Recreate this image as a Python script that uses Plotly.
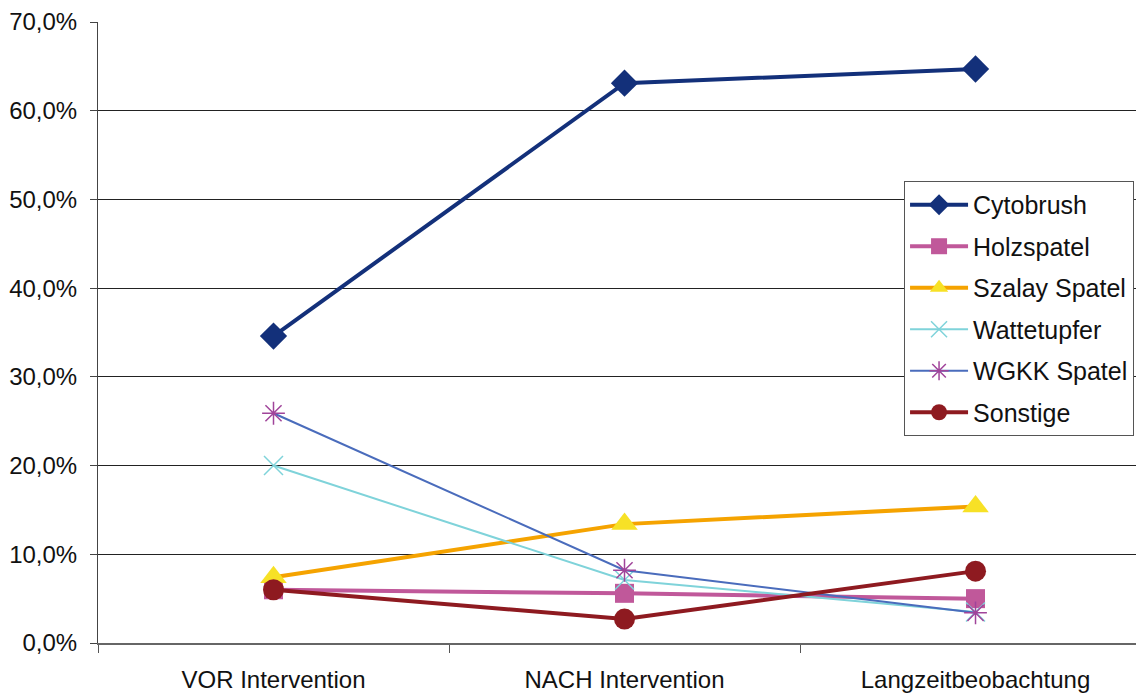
import plotly.graph_objects as go

categories = ["VOR Intervention", "NACH Intervention", "Langzeitbeobachtung"]
cytobrush = [34.6, 63.1, 64.7]
holzspatel = [6.0, 5.6, 5.0]
szalay = [7.4, 13.4, 15.4]
wattetupfer = [20.0, 7.1, 3.5]
wgkk = [25.9, 8.2, 3.4]
sonstige = [6.0, 2.7, 8.1]
y_ticks = [0, 10, 20, 30, 40, 50, 60, 70]

series = [
    ("Cytobrush", cytobrush, "#13307a", 4, dict(symbol="diamond", size=21, color="#13307a")),
    ("Holzspatel", holzspatel, "#c0589a", 4, dict(symbol="square", size=19, color="#c0589a")),
    ("Szalay Spatel", szalay, "#f5a300", 4, dict(symbol="triangle-up", size=23, color="#f7e126")),
    ("Wattetupfer", wattetupfer, "#7fd3da", 2, dict(symbol="x-thin-open", size=19, color="#7fd3da", line=dict(width=1.5, color="#7fd3da"))),
    ("WGKK Spatel", wgkk, "#4a6cbc", 2, dict(symbol="asterisk-open", size=19, color="#a0449a", line=dict(width=1.5, color="#a0449a"))),
    ("Sonstige", sonstige, "#8e1a20", 4, dict(symbol="circle", size=21, color="#8e1a20")),
]

fig = go.Figure()
for name, vals, col, w, mk in series:
    fig.add_trace(go.Scatter(
        x=categories, y=[v / 100 for v in vals], name=name, mode="lines+markers",
        line=dict(color=col, width=w), marker=mk, legendgroup=name,
    ))

fig.update_layout(
    width=1136, height=687,
    margin=dict(l=90, r=0, t=14, b=52),
    plot_bgcolor="white", paper_bgcolor="white",
    separators=",.",
    font=dict(family="Liberation Sans, Arial, sans-serif", size=24, color="#111111"),
    showlegend=True,
    legend=dict(
        x=0.7706, y=0.744, xanchor="left", yanchor="top",
        bordercolor="#555555", borderwidth=1, bgcolor="white",
        font=dict(size=25), tracegroupgap=6, itemwidth=58,
    ),
    xaxis=dict(
        type="category", range=[-0.5, 2.48],
        showgrid=False, showline=True, linecolor="#666666", linewidth=2,
        ticks="outside", tickson="boundaries", ticklen=8, tickcolor="#555555",
        tickfont=dict(size=24), ticklabelstandoff=14, automargin=False,
    ),
    yaxis=dict(
        range=[0, 0.70], tickvals=[t / 100 for t in y_ticks], tickformat=".1%",
        showgrid=True, gridcolor="#222222", gridwidth=1,
        showline=True, linecolor="#444444", linewidth=1,
        ticks="outside", ticklen=7, tickcolor="#444444", zeroline=False,
        tickfont=dict(size=24), ticklabelstandoff=8, automargin=False,
    ),
)

fig.write_html("out.html")
